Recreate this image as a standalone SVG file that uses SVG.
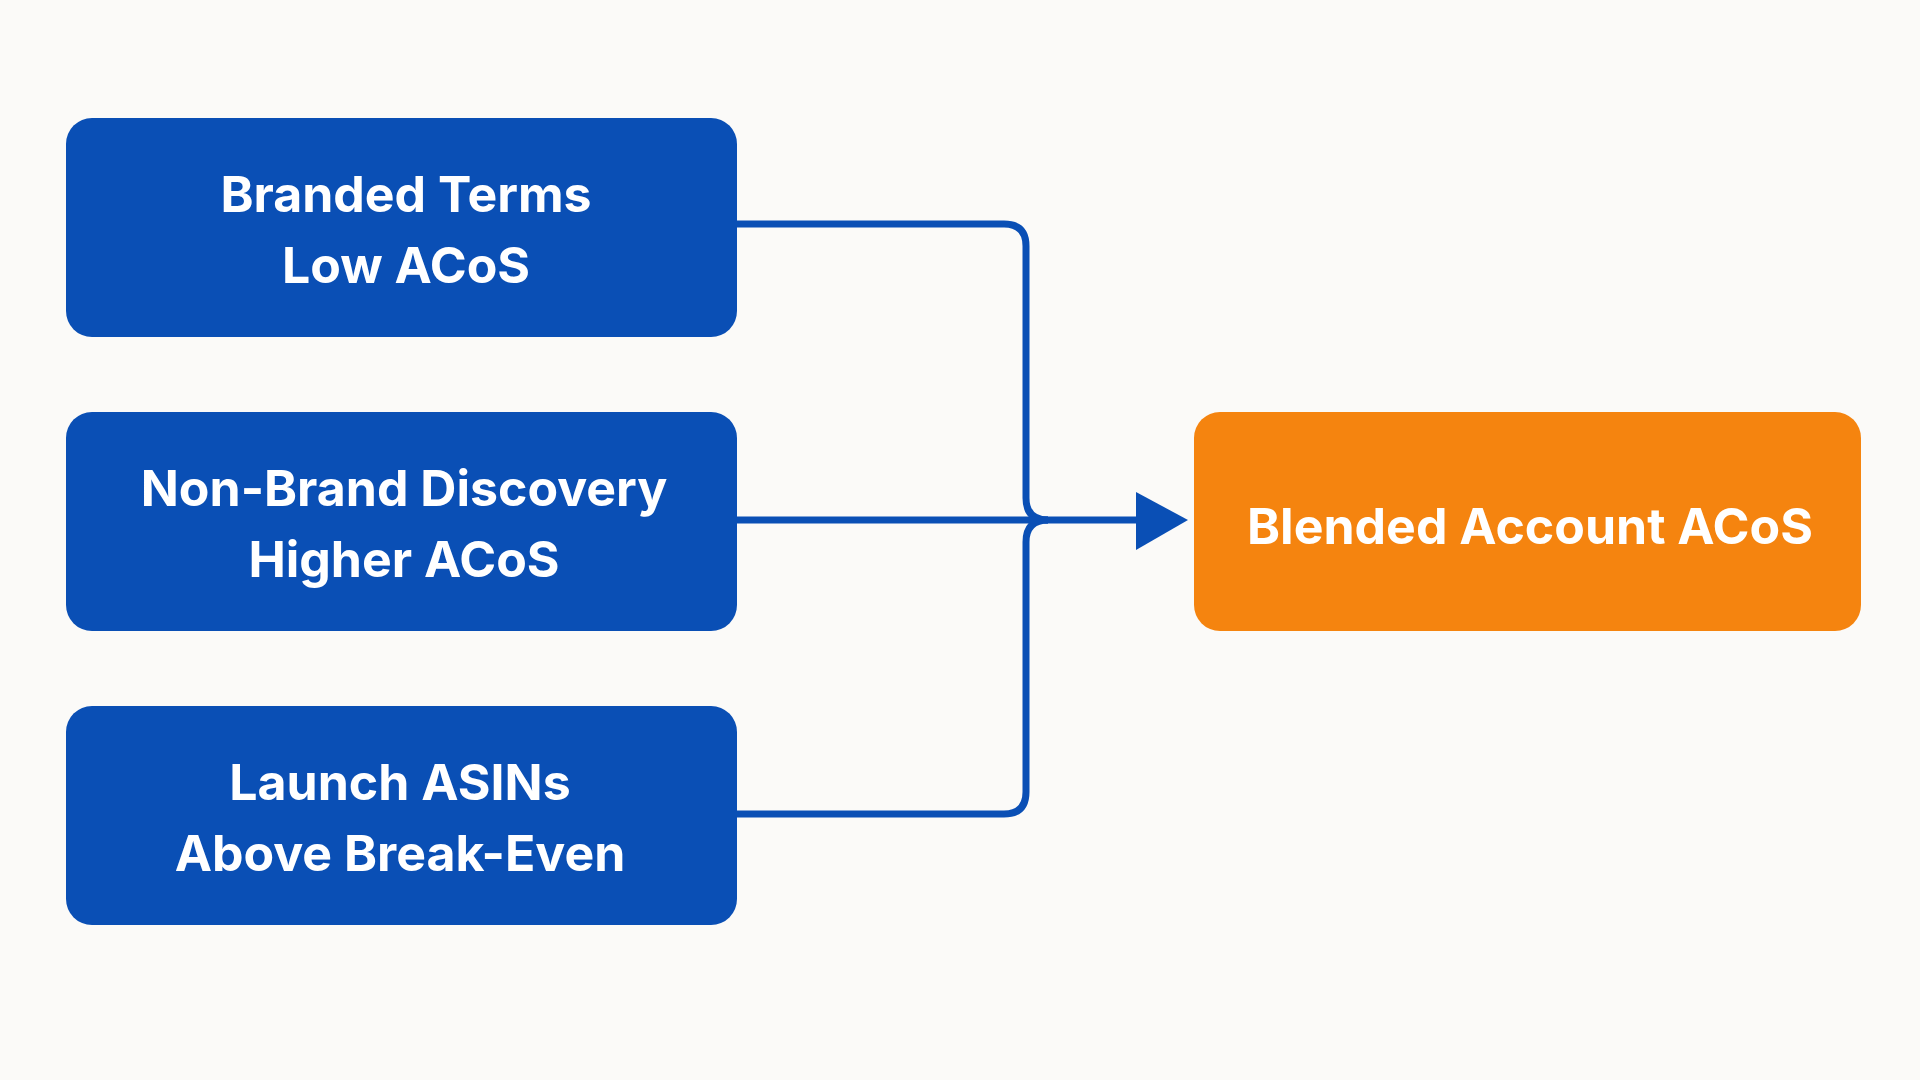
<svg xmlns="http://www.w3.org/2000/svg" width="1920" height="1080" viewBox="0 0 1920 1080">
<style>
.b{fill:#0A4FB5}
.o{fill:#F5840F}
.t{fill:#fff;font-family:"Inter","Liberation Sans",sans-serif;font-weight:700;font-size:50px;text-anchor:middle}
.c{fill:none;stroke:#0A4FB5;stroke-width:7;stroke-linejoin:round}
</style>
<rect width="1920" height="1080" fill="#FBFAF8"/>
<g id="n1"><rect class="b" x="66" y="118" width="671" height="219" rx="26"/><text class="t" x="406" y="212">Branded Terms</text><text class="t" x="406" y="283">Low ACoS</text></g>
<g id="n2"><rect class="b" x="66" y="412" width="671" height="219" rx="26"/><text class="t" x="404" y="506">Non-Brand Discovery</text><text class="t" x="404" y="577">Higher ACoS</text></g>
<g id="n3"><rect class="b" x="66" y="706" width="671" height="219" rx="26"/><text class="t" x="400" y="800">Launch ASINs</text><text class="t" x="400" y="871">Above Break-Even</text></g>
<g id="n4"><rect class="o" x="1194" y="412" width="667" height="219" rx="26"/><text class="t" x="1530" y="544">Blended Account ACoS</text></g>
<g id="connectors">
<path class="c" d="M737 224 H1004 Q1026 224 1026 246 V498 Q1026 520 1048 520"/>
<path class="c" d="M737 814 H1004 Q1026 814 1026 792 V542 Q1026 520 1048 520"/>
<path class="c" d="M737 520 H1140"/>
<polygon fill="#0A4FB5" points="1136,492 1188,520 1136,550"/>
</g>
</svg>
